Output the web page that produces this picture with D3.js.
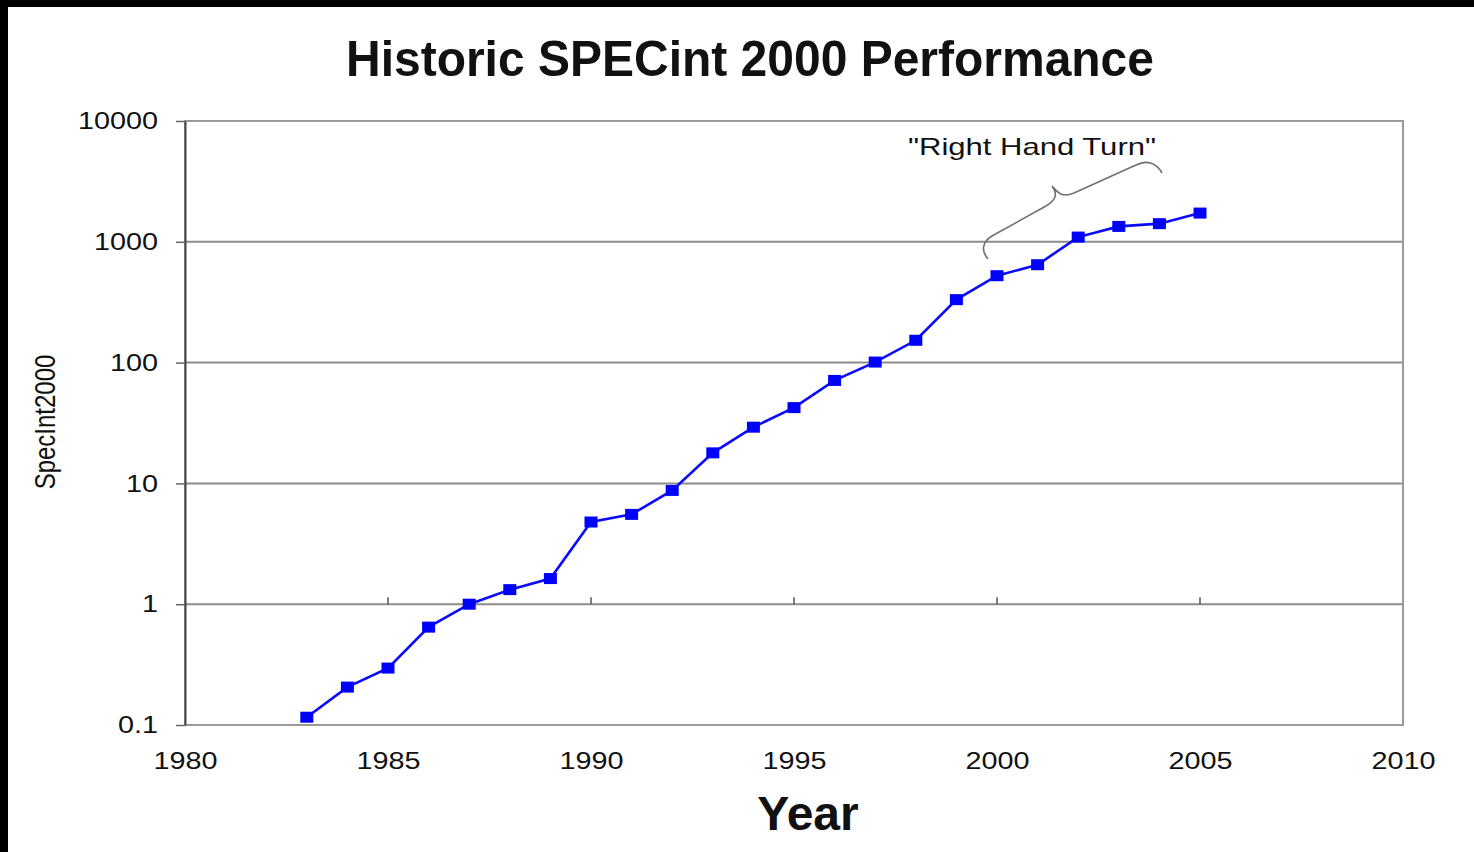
<!DOCTYPE html>
<html>
<head>
<meta charset="utf-8">
<script src="https://cdn.jsdelivr.net/npm/d3@7"></script>
<style>
  html, body { margin: 0; padding: 0; background: #fff; }
  svg { display: block; }
  text { font-family: "Liberation Sans", Arial, Helvetica, sans-serif; fill: #111; }
</style>
</head>
<body>
<svg id="chart" width="1474" height="852"></svg>
<script>
// ---- data ----
const years = [1983, 1984, 1985, 1986, 1987, 1988, 1989, 1990, 1991, 1992, 1993, 1994,
               1995, 1996, 1997, 1998, 1999, 2000, 2001, 2002, 2003, 2004, 2005];
const specInt = [0.116, 0.206, 0.296, 0.646, 1.0, 1.32, 1.63, 4.79, 5.54, 8.75, 17.9, 29.2,
                 42.4, 71.2, 101, 153, 332, 524, 646, 1094, 1341, 1413, 1729];
const yTickValues = [0.1, 1, 10, 100, 1000, 10000];
const yTickLabels = ["0.1", "1", "10", "100", "1000", "10000"];
const xTickValues = [1980, 1985, 1990, 1995, 2000, 2005, 2010];
const innerXTicks = [1985, 1990, 1995, 2000, 2005];
const titleText = "Historic SPECint 2000 Performance";
const xTitle = "Year";
const yTitle = "SpecInt2000";
const annotationText = "\"Right Hand Turn\"";

(function () {
// ---- layout ----
const W = 1474, H = 852;
const pLeft = 185, pRight = 1403, pTop = 121, pBottom = 725;
const svg = d3.select("#chart");

svg.append("rect").attr("x", 0).attr("y", 0).attr("width", W).attr("height", H).attr("fill", "#fff");
// black frame remnants
svg.append("rect").attr("x", 0).attr("y", 0).attr("width", W).attr("height", 7).attr("fill", "#000");
svg.append("rect").attr("x", 0).attr("y", 0).attr("width", 8).attr("height", H).attr("fill", "#000");

const x = d3.scaleLinear().domain([1980, 2010]).range([pLeft, pRight]);
const y = d3.scaleLog().domain([0.1, 10000]).range([pBottom, pTop]);

// gridlines
svg.append("g").selectAll("line")
  .data(yTickValues.filter(v => v > 0.1 && v < 10000))
  .join("line")
  .attr("x1", pLeft).attr("x2", pRight)
  .attr("y1", d => y(d)).attr("y2", d => y(d))
  .attr("stroke", "#8c8c8c").attr("stroke-width", 2);

// plot border
svg.append("rect")
  .attr("x", pLeft).attr("y", pTop).attr("width", pRight - pLeft).attr("height", pBottom - pTop)
  .attr("fill", "none").attr("stroke", "#9a9a9a").attr("stroke-width", 2);

// small x ticks on the y=1 line
svg.append("g").selectAll("line")
  .data(innerXTicks)
  .join("line")
  .attr("x1", d => x(d)).attr("x2", d => x(d))
  .attr("y1", y(1) - 7).attr("y2", y(1))
  .attr("stroke", "#555").attr("stroke-width", 1.5);

// y axis
const yAxis = d3.axisLeft(y)
  .tickValues(yTickValues)
  .tickFormat((d, i) => yTickLabels[i])
  .tickSize(9).tickSizeOuter(0).tickPadding(18);
const gy = svg.append("g").attr("transform", `translate(${pLeft},0)`).call(yAxis);
gy.select(".domain").attr("stroke", "#444").attr("stroke-width", 2);
gy.selectAll(".tick line").attr("stroke", "#666").attr("stroke-width", 1.5);
gy.selectAll(".tick text")
  .attr("x", null)
  .attr("transform", "translate(-27,0) scale(1.2,1)")
  .style("font-size", "24px").attr("fill", "#111");

// x axis (labels only)
const xAxis = d3.axisBottom(x).tickValues(xTickValues).tickFormat(d3.format("d")).tickSize(0);
const gx = svg.append("g").attr("transform", `translate(0,${pBottom})`).call(xAxis);
gx.select(".domain").remove();
gx.selectAll(".tick text")
  .attr("y", 0)
  .attr("dy", "0.71em")
  .attr("transform", "translate(0,27) scale(1.2,1)")
  .style("font-size", "24px").attr("fill", "#111");

// series line
const line = d3.line().x((d, i) => x(years[i])).y(d => y(d));
svg.append("path")
  .datum(specInt)
  .attr("d", line)
  .attr("fill", "none")
  .attr("stroke", "#0a0aff")
  .attr("stroke-width", 2.6);

// markers
const mw = 13, mh = 11;
svg.append("g").selectAll("rect")
  .data(specInt)
  .join("rect")
  .attr("x", (d, i) => x(years[i]) - mw / 2)
  .attr("y", d => y(d) - mh / 2)
  .attr("width", mw).attr("height", mh)
  .attr("fill", "#0000ff");

// title
svg.append("text")
  .attr("x", 750).attr("y", 76)
  .attr("text-anchor", "middle")
  .attr("textLength", 808).attr("lengthAdjust", "spacingAndGlyphs")
  .style("font-size", "50px").style("font-weight", "bold")
  .attr("fill", "#000")
  .text(titleText);

// x title
svg.append("text")
  .attr("x", 808).attr("y", 830)
  .attr("text-anchor", "middle")
  .style("font-size", "48px").style("font-weight", "bold")
  .attr("fill", "#000")
  .text(xTitle);

// y title
svg.append("text")
  .attr("transform", "translate(55,422) scale(1.2,1) rotate(-90)")
  .attr("text-anchor", "middle")
  .style("font-size", "24px")
  .attr("fill", "#111")
  .text(yTitle);

// annotation
svg.append("text")
  .attr("x", 908).attr("y", 155)
  .attr("textLength", 248).attr("lengthAdjust", "spacingAndGlyphs")
  .style("font-size", "24px")
  .attr("fill", "#111")
  .text(annotationText);

// brace
svg.append("path")
  .attr("d", "M 988,259 C 981,251 982,242 992,236 L 1046,206 C 1056,200 1058,194 1052,186 C 1058,193 1062,198 1074,193 L 1136,165 C 1146,160 1156,162 1162,173")
  .attr("fill", "none")
  .attr("stroke", "#707070")
  .attr("stroke-width", 1.6);
})();
</script>
</body>
</html>
